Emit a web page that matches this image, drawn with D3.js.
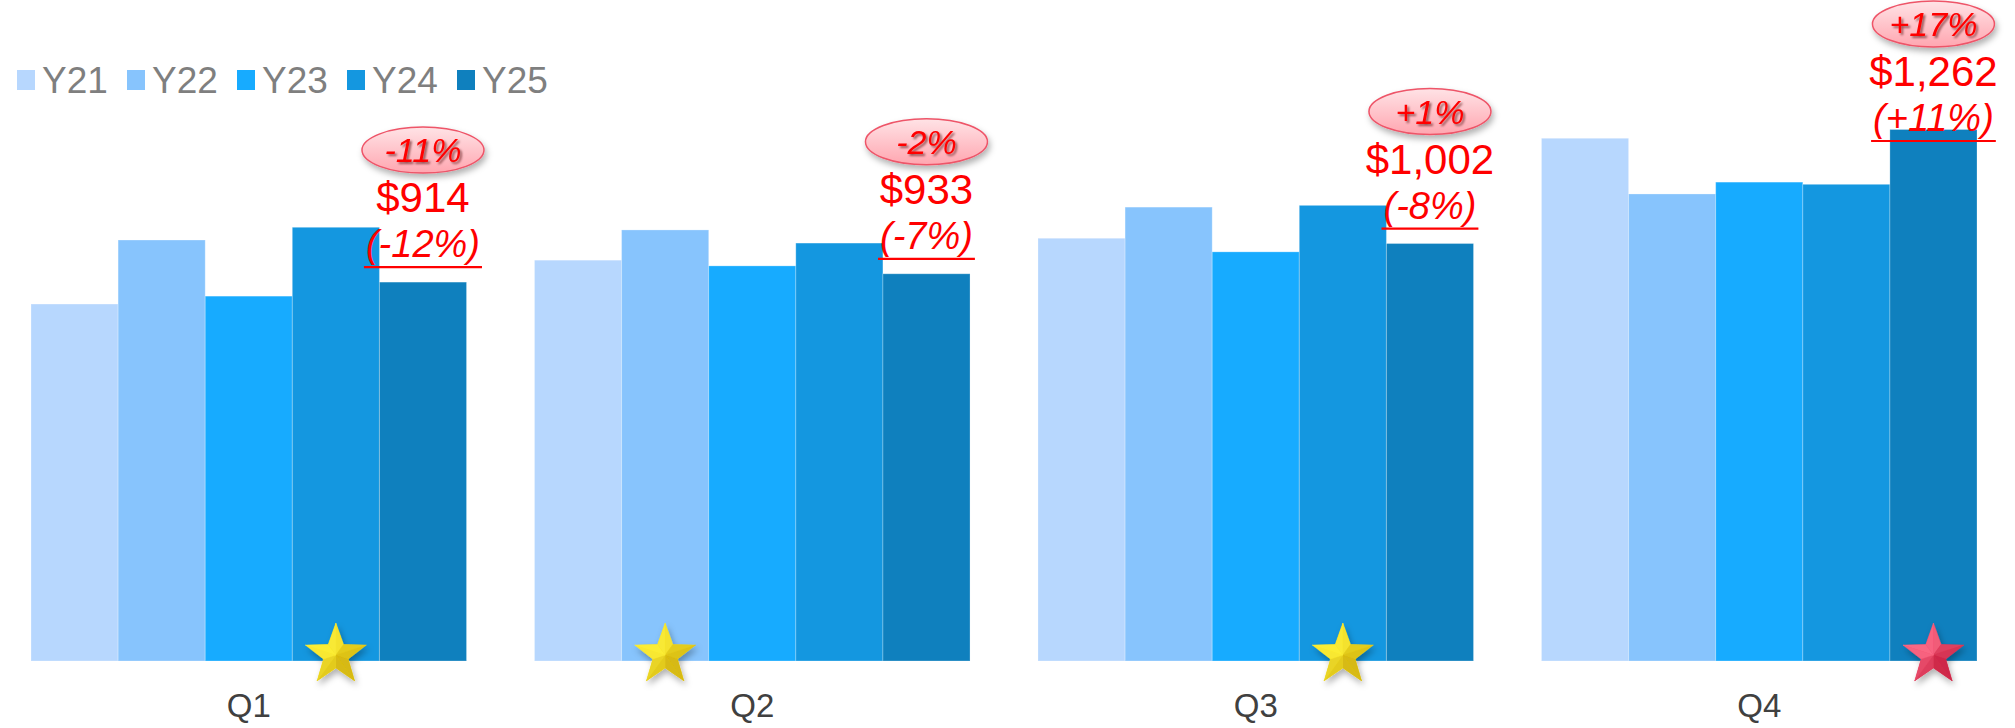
<!DOCTYPE html>
<html>
<head>
<meta charset="utf-8">
<script src="https://cdn.jsdelivr.net/npm/d3@7"></script>
<style>
  body { margin: 0; background: #fff; }
  svg { display: block; font-family: "Liberation Sans", Arial, sans-serif; }
</style>
</head>
<body>
<div id="chart"></div>
<script>
// quarterly values by year (Y25 values are labelled)
const quarters = ["Q1", "Q2", "Q3", "Q4"];
const years = ["Y21", "Y22", "Y23", "Y24", "Y25"];
const y21 = [864, 964, 1014, 1242];
const y22 = [1010, 1033, 1085, 1115];
const y23 = [882, 951, 983, 1142];
const y24 = [1039, 1003, 1089, 1137];
const y25 = [914, 933, 1002, 1262];
const bubbleLabels = ["-11%", "-2%", "+1%", "+17%"];
const yoyLabels = ["(-12%)", "(-7%)", "(-8%)", "(+11%)"];
const colors = ["#b7d7fe", "#87c4fd", "#17abff", "#1497e0", "#0f80be"];

const series = [y21, y22, y23, y24, y25];
const data = quarters.map((q, i) => ({
  quarter: q,
  values: years.map((yr, j) => ({ year: yr, value: series[j][i] }))
}));

const width = 2015, height = 728;

const svg = d3.select("#chart").append("svg")
  .attr("width", width)
  .attr("height", height);

const defs = svg.append("defs");

const shadow = defs.append("filter").attr("id", "shadow")
  .attr("x", "-30%").attr("y", "-30%").attr("width", "160%").attr("height", "170%");
shadow.append("feDropShadow").attr("dx", 2).attr("dy", 4)
  .attr("stdDeviation", 3).attr("flood-color", "#000").attr("flood-opacity", 0.3);

const textShadow = defs.append("filter").attr("id", "textShadow");
textShadow.append("feDropShadow").attr("dx", 2).attr("dy", 2)
  .attr("stdDeviation", 1).attr("flood-color", "#400").attr("flood-opacity", 0.55);

const pink = defs.append("linearGradient").attr("id", "pink")
  .attr("x1", 0).attr("y1", 0).attr("x2", 0).attr("y2", 1);
pink.append("stop").attr("offset", "0%").attr("stop-color", "#ffe3e6");
pink.append("stop").attr("offset", "100%").attr("stop-color", "#ffa6b0");

const x0 = d3.scaleBand().domain(quarters).range([31, 1977]).paddingInner(0.135);
const x1 = d3.scaleBand().domain(years).range([0, x0.bandwidth()]);
const y = d3.scaleLinear().domain([50, 1400]).range([661, 69]);
const color = d3.scaleOrdinal().domain(years).range(colors);

// bars
const groups = svg.append("g")
  .selectAll("g")
  .data(data)
  .join("g")
  .attr("transform", d => `translate(${x0(d.quarter)},0)`);

groups.selectAll("rect")
  .data(d => d.values)
  .join("rect")
  .attr("x", d => x1(d.year))
  .attr("y", d => y(d.value))
  .attr("width", x1.bandwidth())
  .attr("height", d => y(y.domain()[0]) - y(d.value))
  .attr("fill", d => color(d.year))
  .attr("stroke", "rgba(255,255,255,0.25)")
  .attr("stroke-width", 1);

// quarter labels
svg.append("g")
  .selectAll("text")
  .data(quarters)
  .join("text")
  .attr("x", d => x0(d) + x0.bandwidth() / 2)
  .attr("y", 717)
  .attr("text-anchor", "middle")
  .attr("font-size", 33)
  .attr("fill", "#404040")
  .text(d => d);

// stars on the best year of each quarter, red when it's the latest year
function starPoints(R, r) {
  return d3.range(10).map(k => {
    const a = -Math.PI / 2 + k * Math.PI / 5;
    const rad = k % 2 ? r : R;
    return [rad * Math.cos(a), rad * Math.sin(a)];
  });
}
const pts = starPoints(32, 13);
const light = [-0.7, -0.7];

data.forEach(d => {
  const best = d.values.reduce((a, b) => (b.value > a.value ? b : a));
  const red = best.year === years[years.length - 1];
  const shade = red ? d3.interpolateRgb("#b80a2c", "#ff6e8a") : d3.interpolateRgb("#c4a000", "#fff23a");
  const cx = x0(d.quarter) + x1(best.year) + x1.bandwidth() / 2;
  const g = svg.append("g")
    .attr("transform", `translate(${cx},655)`)
    .attr("filter", "url(#shadow)");
  g.append("polygon")
    .attr("points", pts.map(p => p.join(",")).join(" "))
    .attr("fill", red ? "#ea2a4c" : "#ffde00");
  pts.forEach((p, k) => {
    const q = pts[(k + 1) % 10];
    const mx = (p[0] + q[0]) / 2, my = (p[1] + q[1]) / 2;
    const len = Math.hypot(mx, my);
    const t = (1 + (mx * light[0] + my * light[1]) / len) / 2;
    g.append("path")
      .attr("d", `M0,0L${p[0]},${p[1]}L${q[0]},${q[1]}Z`)
      .attr("fill", shade(0.3 + 0.65 * t))
      .attr("stroke", shade(0.3 + 0.65 * t))
      .attr("stroke-width", 0.4);
  });
});

// annotations above the Y25 bars
const ann = svg.append("g")
  .selectAll("g")
  .data(data)
  .join("g")
  .attr("transform", (d, i) => {
    const cx = x0(d.quarter) + x1("Y25") + x1.bandwidth() / 2;
    const cy = Math.max(y(y25[i]) - 132, 24);
    return `translate(${cx},${cy})`;
  });

ann.append("ellipse")
  .attr("rx", 61)
  .attr("ry", 23)
  .attr("fill", "url(#pink)")
  .attr("stroke", "#ee5468")
  .attr("stroke-width", 1.5)
  .attr("filter", "url(#shadow)");

ann.append("text")
  .attr("y", 12)
  .attr("text-anchor", "middle")
  .attr("font-size", 34)
  .attr("font-style", "italic")
  .attr("fill", "#ff0000")
  .attr("filter", "url(#textShadow)")
  .text((d, i) => bubbleLabels[i]);

ann.append("text")
  .attr("y", 62)
  .attr("text-anchor", "middle")
  .attr("font-size", 42)
  .attr("fill", "#ff0000")
  .text((d, i) => d3.format("$,")(y25[i]));

const yoy = ann.append("text")
  .attr("y", 107)
  .attr("text-anchor", "middle")
  .attr("font-size", 38)
  .attr("font-style", "italic")
  .attr("fill", "#ff0000")
  .text((d, i) => yoyLabels[i]);

yoy.each(function () {
  const w = this.getComputedTextLength();
  d3.select(this.parentNode).append("line")
    .attr("x1", -w / 2 - 2).attr("x2", w / 2 + 2)
    .attr("y1", 117).attr("y2", 117)
    .attr("stroke", "#ff0000")
    .attr("stroke-width", 2.2);
});

// legend
const legend = svg.append("g")
  .selectAll("g")
  .data(years)
  .join("g")
  .attr("transform", (d, i) => `translate(${17 + i * 110},0)`);

legend.append("rect")
  .attr("y", 70)
  .attr("width", 18)
  .attr("height", 20)
  .attr("fill", d => color(d));

legend.append("text")
  .attr("x", 25)
  .attr("y", 93)
  .attr("font-size", 37)
  .attr("fill", "#7f7f7f")
  .text(d => d);
</script>
</body>
</html>
